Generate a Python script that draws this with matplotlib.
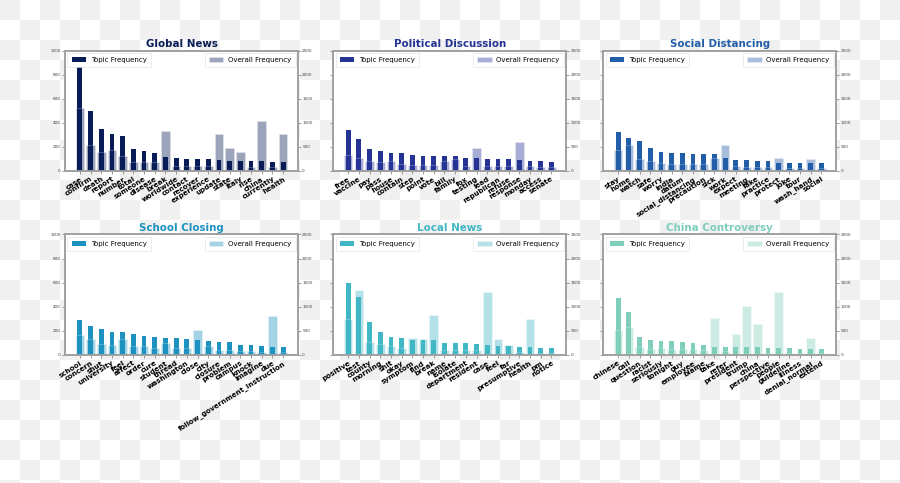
import numpy as np
import matplotlib
matplotlib.use("Agg")
import matplotlib.pyplot as plt

# ---------------- data ----------------
titles = ["Global News", "Political Discussion", "Social Distancing",
          "School Closing", "Local News", "China Controversy"]
colors = ["#081d58", "#253494", "#225ea8", "#1d91c0", "#41b6c4", "#7fcdbb"]

global_words = ["case", "confirm", "death", "report", "number", "total", "someone", "disease",
                "break", "worldwide", "contact", "recover", "experience", "update", "state",
                "italy", "rise", "china", "currently", "health"]
global_topic = [867, 501, 352, 307, 288, 180, 163, 150, 119, 105, 102, 100, 97, 91, 86, 86, 83, 83, 72, 72]
global_overall = [1316, 540, 395, 429, 305, 187, 180, 187, 838, 97, 104, 104, 104, 762, 478, 388, 83, 1039, 83, 762]

political_words = ["free", "vaccine", "pay", "pass", "house", "contain", "step", "point", "vote", "bill",
                   "family", "fox", "testing", "lead", "republican", "refuse", "response", "monday",
                   "access", "senate"]
political_topic = [341, 266, 183, 163, 152, 147, 130, 127, 125, 125, 125, 105, 105, 102, 102, 100, 91, 86, 83, 78]
political_overall = [332, 263, 201, 194, 201, 145, 125, 125, 125, 208, 249, 111, 478, 104, 104, 104, 602, 104, 83, 83]

social_words = ["stay", "home", "watch", "safe", "worry", "india", "datum", "social_distancing",
                "precaution", "sick", "work", "expect", "meeting", "fake", "practice", "protect",
                "joke", "tour", "wash_hand", "social"]
social_topic = [324, 271, 252, 188, 158, 150, 147, 144, 139, 139, 111, 94, 89, 86, 83, 69, 66, 66, 66, 64]
social_overall = [429, 540, 249, 201, 159, 139, 139, 139, 139, 277, 540, 97, 83, 83, 83, 277, 62, 62, 249, 62]

school_words = ["school", "concern", "shut", "university", "feel", "affect", "order", "cure", "student",
                "thread", "washington", "close", "city", "closure", "problem", "campus", "knock",
                "imagine", "due", "follow_government_instruction"]
school_topic = [289, 242, 214, 189, 189, 178, 156, 150, 144, 142, 133, 128, 119, 108, 106, 86, 81, 78, 69, 67]
school_overall = [417, 333, 222, 208, 333, 188, 188, 146, 243, 146, 146, 514, 188, 104, 104, 83, 76, 63, 812, 63]

local_words = ["positive", "test", "county", "morning", "shit", "okay", "symptom", "find", "break", "name",
               "isolate", "department", "resident", "case", "feel", "far", "presumptive", "health",
               "pm", "notice"]
local_topic = [594, 483, 272, 194, 153, 139, 128, 128, 122, 103, 100, 97, 92, 86, 78, 72, 69, 64, 56, 56]
local_overall = [757, 1346, 271, 229, 194, 146, 347, 333, 840, 104, 104, 104, 104, 1311, 333, 208, 63, 757, 49, 49]

china_words = ["chinese", "call", "question", "racist", "seriously", "tonight", "guy", "employee", "blame",
               "take", "refer", "president", "trump", "china", "perspective", "people", "guideline",
               "illness", "denial_normal", "extend"]
china_topic = [472, 353, 147, 122, 117, 117, 111, 100, 81, 67, 67, 67, 64, 64, 58, 58, 56, 53, 50, 50]
china_overall = [521, 590, 167, 125, 146, 125, 125, 125, 111, 764, 83, 444, 1021, 646, 49, 1312, 49, 49, 347, 49]

left_ticks = [0, 200, 400, 600, 800, 1000]
right_ticks = [0, 500, 1000, 1500, 2000, 2500]

panels = [
    (global_words, global_topic, global_overall),
    (political_words, political_topic, political_overall),
    (social_words, social_topic, social_overall),
    (school_words, school_topic, school_overall),
    (local_words, local_topic, local_overall),
    (china_words, china_topic, china_overall),
]

# ---------------- figure ----------------
W, H = 900, 483
fig = plt.figure(figsize=(W / 100, H / 100), dpi=100)

# transparency checkerboard background
yy, xx = np.mgrid[0:H, 0:W]
checker = (((xx // 20) + (yy // 20)) % 2 == 0)
bg = np.where(checker, 0.94, 1.0)
fig.figimage(bg, cmap="gray", vmin=0, vmax=1, origin="upper", zorder=-10)

col_left = [65 / W, 333.3 / W, 603.3 / W]
ax_w = 233 / W
row_bottom = [1 - 171 / H, 1 - 355 / H]
ax_h = 120.5 / H

spine_c = "#a0a0a0"
leg_kw = dict(fontsize=5.0, frameon=True, borderpad=0.6, handlelength=2.1, handleheight=0.7,
              handletextpad=0.7, borderaxespad=0.35, fancybox=True)
for i, (words, topic, overall) in enumerate(panels):
    r, c = divmod(i, 3)
    ax = fig.add_axes([col_left[c], row_bottom[r], ax_w, ax_h])
    ax.set_facecolor("white")
    x = np.arange(len(words))
    ax.bar(x, topic, width=0.45, color=colors[i], label="Topic Frequency", zorder=2)
    ax.set_ylim(0, 1000)
    ax.set_yticks(left_ticks)
    if c == 0:
        ax.set_yticklabels([str(t) for t in left_ticks])
    else:
        ax.set_yticklabels([])
    ax.set_xticks(x)
    ax.set_xticklabels(words, rotation=32, ha="right", rotation_mode="anchor",
                       fontsize=5.1, fontweight="bold", color="black")
    ax.tick_params(axis="x", length=2, width=0.6, color="#888888", pad=1.5)
    ax.tick_params(axis="y", length=2, width=0.6, color="#888888", labelsize=3, labelcolor="#444444", pad=1)

    ax2 = ax.twinx()
    ax2.bar(x, overall, width=0.8, color=colors[i], alpha=0.4, edgecolor="white", linewidth=0.4,
            label="Overall Frequency", zorder=2)
    ax2.set_ylim(0, 2500)
    ax2.set_yticks(right_ticks)
    ax2.tick_params(axis="y", length=2, width=0.6, color="#888888", labelsize=3, labelcolor="#444444", pad=1)

    for a in (ax, ax2):
        for s in a.spines.values():
            s.set_color(spine_c)
            s.set_linewidth(1.2)

    ax.set_title(titles[i], fontsize=7.4, fontweight="bold", color=colors[i], pad=2.5)
    leg1 = ax.legend(loc="upper left", **leg_kw)
    leg1.get_frame().set_linewidth(0.5)
    leg1.get_frame().set_edgecolor("#dddddd")
    leg2 = ax2.legend(loc="upper right", **leg_kw)
    leg2.get_frame().set_linewidth(0.5)
    leg2.get_frame().set_edgecolor("#dddddd")

fig.savefig("out.png", dpi=100)
